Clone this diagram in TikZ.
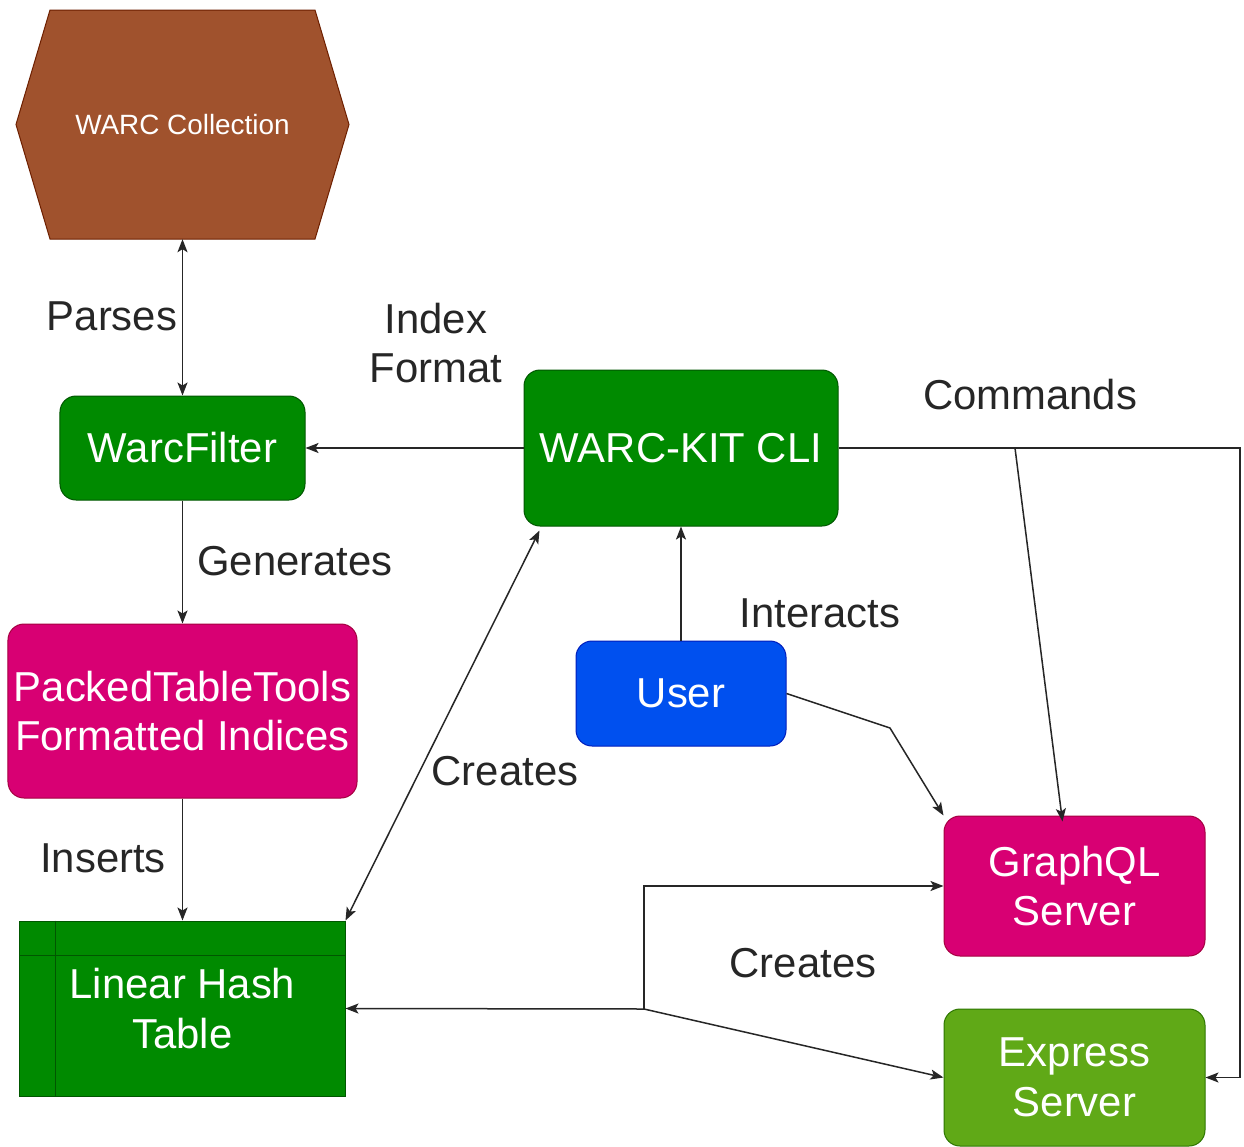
\documentclass[tikz,border=0pt]{standalone}
\usepackage{fontspec}
\setmainfont{Liberation Sans}
\usepackage{tikz}
\usetikzlibrary{arrows.meta}

\definecolor{verde}{HTML}{008A00}
\definecolor{verdescuro}{HTML}{005700}
\definecolor{magenta}{HTML}{D80073}
\definecolor{magentascuro}{HTML}{A50040}
\definecolor{blu}{HTML}{0050EF}
\definecolor{bluscuro}{HTML}{001DBC}
\definecolor{verdechiaro}{HTML}{60A917}
\definecolor{verdechiaroscuro}{HTML}{2D7600}
\definecolor{marrone}{HTML}{A0522D}
\definecolor{marronescuro}{HTML}{6D1F00}

\tikzset{
  blocco/.style={rectangle, rounded corners=16bp, inner sep=0pt, align=center,
    text=white, font=\fontsize{42}{50}\selectfont, line width=1bp},
  etichetta/.style={align=center, text=black!85, font=\fontsize{42}{50}\selectfont},
  freccia/.style={-{Stealth[length=13bp,width=10bp,inset=3bp]}, line width=1.5bp, draw=black!85},
  doppia/.style={{Stealth[length=13bp,width=10bp,inset=3bp]}-{Stealth[length=13bp,width=10bp,inset=3bp]}, line width=1.5bp, draw=black!85}
}

\begin{document}
\begin{tikzpicture}[x=1bp,y=-1bp]
  \useasboundingbox[fill=white] (0,0) rectangle (1244,1147);

  % Nodi
  \draw[fill=marrone, draw=marronescuro, line width=1bp]
    (50,10) -- (315,10) -- (349,124.5) -- (315,239) -- (50,239) -- (16,124.5) -- cycle;
  \node[inner sep=0pt, minimum width=333bp, minimum height=229bp, text=white,
        font=\fontsize{28}{34}\selectfont] (hex) at (182.5,124.5) {WARC Collection};

  \node[blocco, fill=verde, draw=verdescuro, minimum width=245bp, minimum height=104bp]
    (wf) at (182.5,448) {WarcFilter};
  \node[blocco, fill=verde, draw=verdescuro, minimum width=314bp, minimum height=156bp]
    (cli) at (681,448) {WARC-KIT CLI};
  \node[blocco, fill=magenta, draw=magentascuro, minimum width=349bp, minimum height=174bp]
    (pt) at (182.5,711) {PackedTableTools\\Formatted Indices};
  \node[blocco, rounded corners=0pt, fill=verde, draw=verdescuro, minimum width=325bp, minimum height=175bp]
    (lht) at (182.5,1008.5) {Linear Hash\\Table};
  \draw[verdescuro, line width=1.5bp] ([xshift=36bp]lht.north west) -- ([xshift=36bp]lht.south west);
  \draw[verdescuro, line width=1.5bp] ([yshift=-35bp]lht.north west) -- ([yshift=-35bp]lht.north east);
  \node[blocco, fill=blu, draw=bluscuro, minimum width=210bp, minimum height=105bp]
    (user) at (681,693.5) {User};
  \node[blocco, fill=magenta, draw=magentascuro, minimum width=261bp, minimum height=140bp]
    (gql) at (1074.5,886) {GraphQL\\Server};
  \node[blocco, fill=verdechiaro, draw=verdechiaroscuro, minimum width=261bp, minimum height=137bp]
    (exp) at (1074.5,1077.5) {Express\\Server};

  % Punti ausiliari
  \coordinate (piega) at (890,728);
  \coordinate (angolo) at (1240,448);
  \coordinate (diram) at (1015,448);
  \coordinate (nodo) at (644,1009);

  % Connettori
  \draw[doppia] (hex.south) -- (wf.north);
  \draw[freccia] (cli.west) -- (wf.east);
  \draw[freccia] (wf.south) -- (pt.north);
  \draw[freccia] (pt.south) -- (lht.north);
  \draw[doppia] (lht.north east) -- ([xshift=16bp,yshift=-4bp]cli.south west);
  \draw[freccia] (user.north) -- (cli.south);
  \draw[freccia] (user.east) -- (piega) -- (gql.north west);
  \draw[freccia] (cli.east) -- (angolo) |- (exp.east);
  \draw[freccia] (diram) -- ([xshift=-12bp,yshift=-6bp]gql.north);
  \draw[freccia] (nodo) -- (lht.east);
  \draw[freccia] (nodo) |- (gql.west);
  \draw[freccia] (nodo) -- (exp.west);

  % Etichette
  \node[etichetta] (lparses) at (112,316) {Parses};
  \node[etichetta] (lindex) at (436,343) {Index\\Format};
  \node[etichetta] (lgen) at (295,561) {Generates};
  \node[etichetta] (lins) at (103,858) {Inserts};
  \node[etichetta] (lcre) at (505,771) {Creates};
  \node[etichetta] (linter) at (820,613) {Interacts};
  \node[etichetta] (lcmd) at (1030,395) {Commands};
  \node[etichetta] (lcre2) at (803,963) {Creates};
\end{tikzpicture}
\end{document}
